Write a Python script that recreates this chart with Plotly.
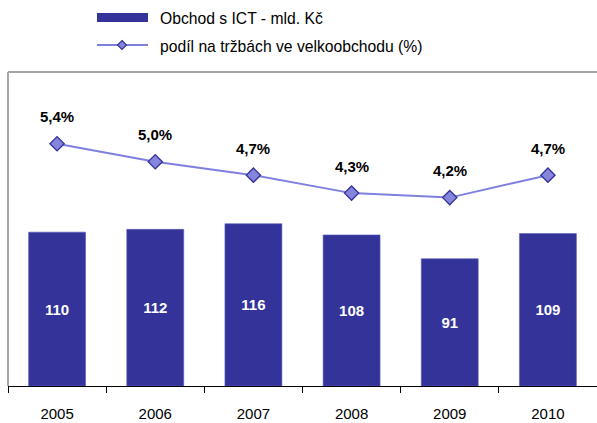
import plotly.graph_objects as go

years = ["2005", "2006", "2007", "2008", "2009", "2010"]
trade_ict = [110, 112, 116, 108, 91, 109]          # mld. Kč
share_pct = [5.4, 5.0, 4.7, 4.3, 4.2, 4.7]          # % of wholesale revenue

bar_name = "Obchod s ICT - mld. Kč"
line_name = "podíl na tržbách ve velkoobchodu (%)"

BAR_COLOR = "#333399"
LINE_COLOR = "#7f7fdf"
MARKER_FILL = "#8585dc"
FONT = "Liberation Sans, Arial, sans-serif"

W, H = 597, 423
ML, MR, MT, MB = 8, 0, 72, 37

fig = go.Figure()

fig.add_trace(go.Bar(
    x=years, y=trade_ict, name=bar_name,
    marker=dict(color=BAR_COLOR, line=dict(color="#5a5abf", width=0.6)),
    width=0.58,
    text=[str(v) for v in trade_ict],
    textposition="inside", insidetextanchor="middle",
    textfont=dict(color="white", size=15, family=FONT, weight="bold"),
    constraintext="none",
    showlegend=False,
))

fig.add_trace(go.Scatter(
    x=years, y=share_pct, name=line_name, yaxis="y2",
    mode="lines+markers",
    line=dict(color=LINE_COLOR, width=2),
    marker=dict(symbol="diamond", size=11, color=MARKER_FILL,
                line=dict(color=BAR_COLOR, width=1.3)),
    showlegend=False,
))

# percentage labels above the markers (x given as category index)
for i, v in enumerate(share_pct):
    fig.add_annotation(
        x=i, y=v, xref="x", yref="y2",
        text=f"{v:.1f}".replace(".", ",") + "%",
        showarrow=False, yshift=27,
        font=dict(size=15, family=FONT, color="black", weight="bold"),
    )

# frame: grey left and top edges of the plot area
fig.add_shape(type="line", xref="paper", yref="paper", x0=0, x1=0, y0=0, y1=1,
              line=dict(color="#a6a6a6", width=2))
fig.add_shape(type="line", xref="paper", yref="paper", x0=0, x1=1, y0=1, y1=1,
              line=dict(color="#a6a6a6", width=2))

# custom legend above the plot (pixel positions converted to paper units)
def px_x(p):
    return (p - ML) / (W - ML - MR)

def px_y(p):
    return (H - MB - p) / (H - MT - MB)

fig.add_shape(type="rect", xref="paper", yref="paper",
              x0=px_x(97), x1=px_x(148), y0=px_y(22), y1=px_y(13),
              fillcolor=BAR_COLOR, line=dict(width=0))
fig.add_shape(type="line", xref="paper", yref="paper",
              x0=px_x(97), x1=px_x(148), y0=px_y(45), y1=px_y(45),
              line=dict(color=LINE_COLOR, width=2))
cx, cy, r = 122, 45, 4.5
diamond = (f"M{px_x(cx)},{px_y(cy - r)} L{px_x(cx + r)},{px_y(cy)} "
           f"L{px_x(cx)},{px_y(cy + r)} L{px_x(cx - r)},{px_y(cy)} Z")
fig.add_shape(type="path", xref="paper", yref="paper", path=diamond,
              fillcolor=MARKER_FILL, line=dict(color=BAR_COLOR, width=1.2))
for txt, yy in [(bar_name, 18), (line_name, 46)]:
    fig.add_annotation(x=px_x(158), y=px_y(yy), xref="paper", yref="paper",
                       text=txt, showarrow=False, xanchor="left", yanchor="middle",
                       font=dict(size=15.7, family=FONT, color="black"))

fig.update_layout(
    width=W, height=H,
    margin=dict(l=ML, r=MR, t=MT, b=MB),
    paper_bgcolor="white", plot_bgcolor="white",
    font=dict(family=FONT, size=15, color="black"),
    bargap=0.42,
    xaxis=dict(
        type="category", tickson="boundaries", automargin=False,
        range=[-0.5, len(years) - 0.5], autorange=False,
        ticks="outside", ticklen=6, tickcolor="black", tickwidth=1,
        showline=True, linecolor="black", linewidth=1,
        showgrid=False, tickfont=dict(size=15, family=FONT),
        ticklabelstandoff=14,
    ),
    yaxis=dict(range=[0, 224.5], visible=False, showgrid=False, fixedrange=True),
    yaxis2=dict(range=[0, 7], overlaying="y", visible=False, showgrid=False),
)

fig.write_html("out.html")
